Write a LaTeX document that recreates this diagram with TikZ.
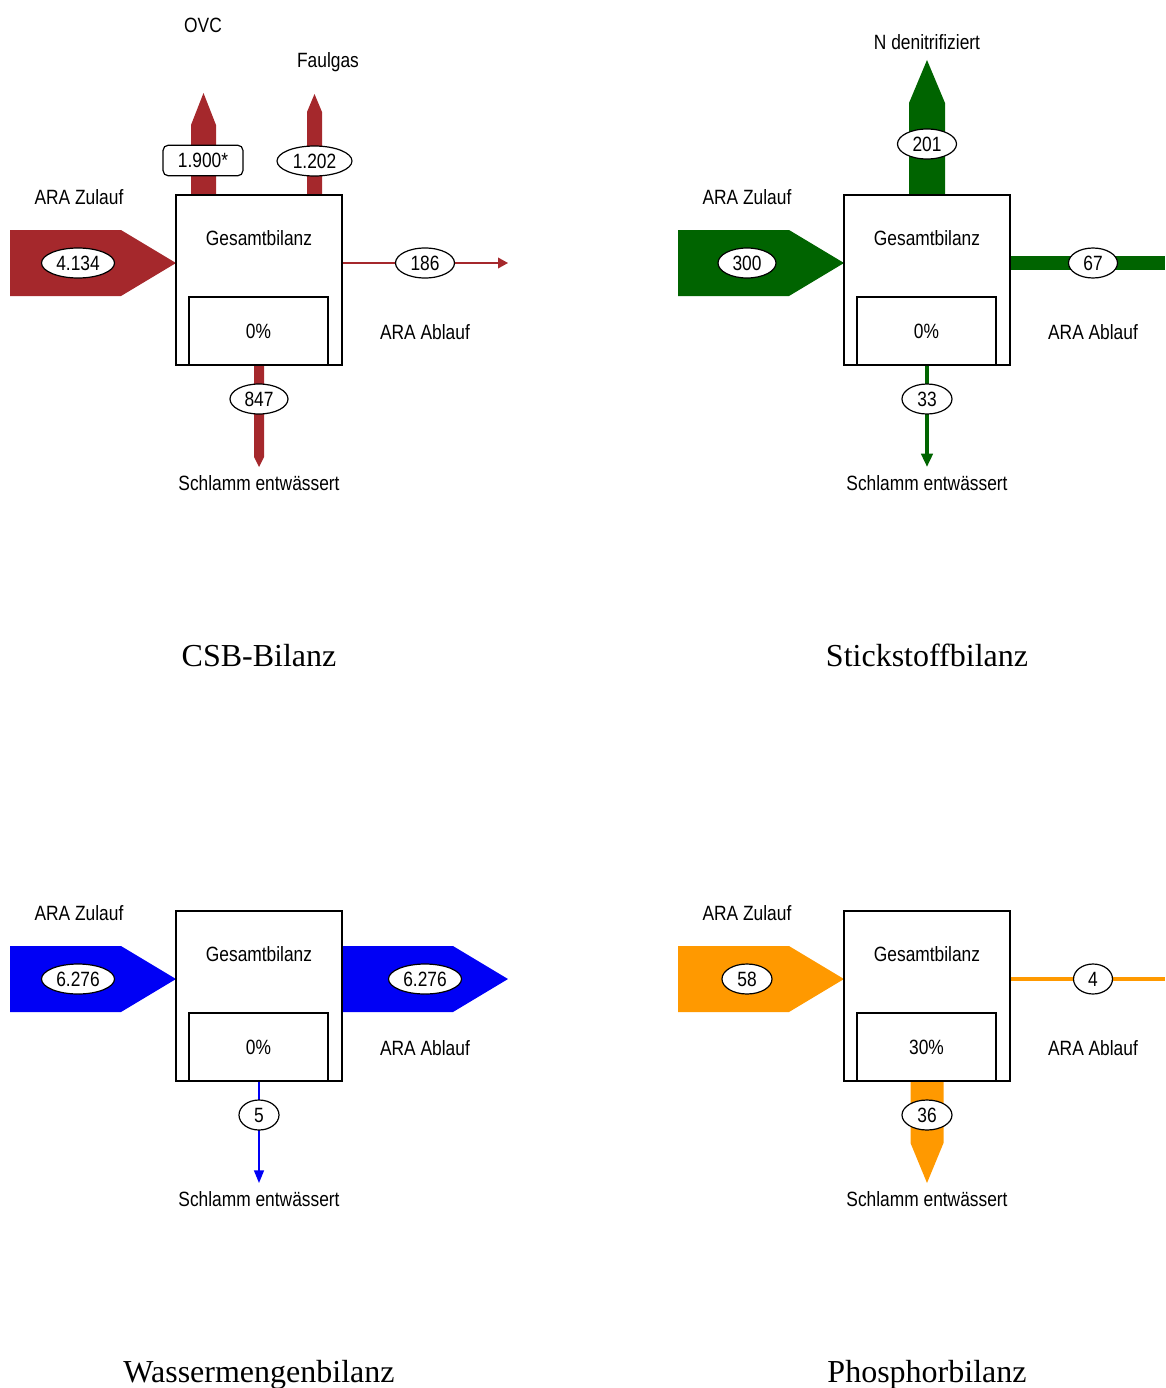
\documentclass[tikz,border=0pt]{standalone}
\usepackage{fontspec}
\setmainfont{Liberation Serif}
\setsansfont{Liberation Sans}[FakeStretch=0.84]
\usetikzlibrary{shapes.geometric,arrows.meta}

\definecolor{csbred}{RGB}{165,40,44}
\definecolor{ngreen}{RGB}{0,100,0}
\definecolor{wblue}{RGB}{0,0,245}
\definecolor{porange}{RGB}{255,153,0}

\tikzset{
  lbl/.style={font=\sffamily\fontsize{15.5}{18}\selectfont, inner sep=0pt,
              text height=11.1pt, text depth=0pt},
  val/.style={lbl, ellipse, draw, fill=white, line width=0.9pt,
              minimum height=22.5pt, minimum width=#1},
  valbox/.style={lbl, rectangle, rounded corners=4pt, draw, fill=white,
              line width=0.9pt, minimum height=23pt, minimum width=#1},
  balbox/.style={draw, fill=white, line width=1.1pt, minimum width=124.5pt,
              minimum height=127.5pt, inner sep=0pt},
  storebox/.style={lbl, draw, fill=white, line width=1.1pt,
              minimum width=104.25pt, minimum height=51pt},
  title/.style={font=\rmfamily\fontsize{24}{28}\selectfont, inner sep=0pt,
              text height=15.9pt, text depth=0pt},
}

\begin{document}
\begin{tikzpicture}[x=0.75pt, y=-0.75pt]
\useasboundingbox (0,0) rectangle (1165,1388);

% ---------------- CSB ----------------
\fill[csbred] (10,230) -- (121,230) -- (176,263) -- (121,296) -- (10,296) -- cycle;
\fill[csbred] (191,195) -- (191,125) -- (203.5,93) -- (216,125) -- (216,195) -- cycle;
\fill[csbred] (307,195) -- (307,112) -- (314.5,94) -- (322,112) -- (322,195) -- cycle;
\fill[csbred] (254,365) -- (254,457) -- (259,467) -- (264,457) -- (264,365) -- cycle;
\node[balbox] (csb) at (259,280) {};
\node[storebox] (csbst) at (258.5,331) {0\%};
\node[lbl] (csbt) at (259,238) {Gesamtbilanz};
\coordinate (csbout) at (508,263);
\draw[csbred, line width=1.1pt, -{Triangle[length=7.5pt,width=8pt]}] (csb.east |- csbout) -- (csbout);
\node[val=54.75pt] (csbin) at (78,263) {4.134};
\node[valbox=60pt] (csbovc) at (203,160.5) {1.900*};
\node[val=56.25pt] (csbgas) at (314.5,161) {1.202};
\node[val=44.25pt] (csbab) at (425,263) {186};
\node[val=43.5pt] (csbsl) at (259,399) {847};
\node[lbl] (csbl1) at (79,197) {ARA Zulauf};
\node[lbl] (csbl2) at (203,25.5) {OVC};
\node[lbl] (csbl3) at (328,60) {Faulgas};
\node[lbl] (csbl4) at (425,332) {ARA Ablauf};
\node[lbl] (csbl5) at (259,483.5) {Schlamm entwässert};
\node[title] (csbtitle) at (259,656) {CSB-Bilanz};

% ---------------- Stickstoff ----------------
\fill[ngreen] (678,230) -- (789,230) -- (844,263) -- (789,296) -- (678,296) -- cycle;
\fill[ngreen] (909,195) -- (909,103) -- (927,60) -- (945,103) -- (945,195) -- cycle;
\node[balbox] (nb) at (927,280) {};
\node[storebox] (nbst) at (926.5,331) {0\%};
\node[lbl] (nbt) at (927,238) {Gesamtbilanz};
\coordinate (nout) at (1165,263);
\coordinate (nsl) at (927,467);
\draw[ngreen, line width=10.5pt] (nb.east |- nout) -- (nout);
\draw[ngreen, line width=3pt, -{Triangle[length=10pt,width=8.5pt]}] (nb.south) -- (nsl);
\node[val=43.5pt] (nin) at (747,263) {300};
\node[val=44.25pt] (nden) at (927,144) {201};
\node[val=36.75pt] (nab) at (1093,263) {67};
\node[val=37.5pt] (nslv) at (927,399) {33};
\node[lbl] (nl1) at (747,197) {ARA Zulauf};
\node[lbl] (nl2) at (927,42.5) {N denitrifiziert};
\node[lbl] (nl4) at (1093,332) {ARA Ablauf};
\node[lbl] (nl5) at (927,483.5) {Schlamm entwässert};
\node[title] (ntitle) at (927,656) {Stickstoffbilanz};

% ---------------- Wassermenge ----------------
\fill[wblue] (10,946) -- (121,946) -- (176,979) -- (121,1012) -- (10,1012) -- cycle;
\fill[wblue] (342,946) -- (453,946) -- (508,979) -- (453,1012) -- (342,1012) -- cycle;
\node[balbox] (wb) at (259,996) {};
\node[storebox] (wbst) at (258.5,1047) {0\%};
\node[lbl] (wbt) at (259,954) {Gesamtbilanz};
\coordinate (wsl) at (259,1183);
\draw[wblue, line width=1.1pt, -{Triangle[length=9.5pt,width=7.5pt]}] (wb.south) -- (wsl);
\node[val=54.75pt] (win) at (78,979) {6.276};
\node[val=54.75pt] (wab) at (425,979) {6.276};
\node[val=30pt] (wslv) at (259,1115) {5};
\node[lbl] (wl1) at (79,913) {ARA Zulauf};
\node[lbl] (wl4) at (425,1048) {ARA Ablauf};
\node[lbl] (wl5) at (259,1199.5) {Schlamm entwässert};
\node[title] (wtitle) at (259,1372) {Wassermengenbilanz};

% ---------------- Phosphor ----------------
\fill[porange] (678,946) -- (789,946) -- (844,979) -- (789,1012) -- (678,1012) -- cycle;
\fill[porange] (910.5,1081) -- (910.5,1143) -- (927,1183) -- (943.5,1143) -- (943.5,1081) -- cycle;
\node[balbox] (pb) at (927,996) {};
\node[storebox] (pbst) at (926.5,1047) {30\%};
\node[lbl] (pbt) at (927,954) {Gesamtbilanz};
\coordinate (pout) at (1165,979);
\draw[porange, line width=3pt] (pb.east |- pout) -- (pout);
\node[val=37.5pt] (pin) at (747,979) {58};
\node[val=29.25pt] (pab) at (1093,979) {4};
\node[val=37.5pt] (pslv) at (927,1115) {36};
\node[lbl] (pl1) at (747,913) {ARA Zulauf};
\node[lbl] (pl4) at (1093,1048) {ARA Ablauf};
\node[lbl] (pl5) at (927,1199.5) {Schlamm entwässert};
\node[title] (ptitle) at (927,1372) {Phosphorbilanz};
\end{tikzpicture}
\end{document}
